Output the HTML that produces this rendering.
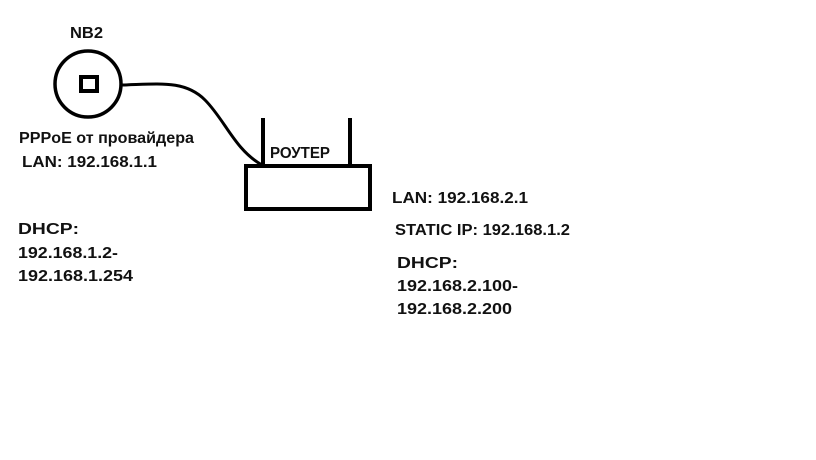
<!DOCTYPE html>
<html><head><meta charset="utf-8"><style>html,body{margin:0;padding:0;background:#fff;}svg{display:block}</style></head>
<body>
<svg width="816" height="460" viewBox="0 0 816 460" xmlns="http://www.w3.org/2000/svg" font-family="Liberation Sans, sans-serif" font-weight="bold" font-size="16" fill="#111">
<rect width="816" height="460" fill="#fff"/>
<circle cx="88" cy="84" r="33" fill="none" stroke="#000" stroke-width="3.5"/>
<rect x="81" y="77" width="16" height="14" fill="none" stroke="#000" stroke-width="4"/>
<path d="M122 85 C 160 84, 185 80, 205 100 C 225 120, 235 150, 262 165" fill="none" stroke="#000" stroke-width="3"/>
<rect x="246" y="166" width="124" height="43" fill="none" stroke="#000" stroke-width="4"/>
<line x1="263" y1="118" x2="263" y2="168" stroke="#000" stroke-width="4"/>
<line x1="350" y1="118" x2="350" y2="168" stroke="#000" stroke-width="4"/>
<text x="70" y="38" textLength="33" lengthAdjust="spacingAndGlyphs">NB2</text>
<text x="19" y="143" textLength="175" lengthAdjust="spacingAndGlyphs">PPPoE  от провайдера</text>
<text x="22" y="167" textLength="135" lengthAdjust="spacingAndGlyphs">LAN: 192.168.1.1</text>
<text x="18" y="234" textLength="61" lengthAdjust="spacingAndGlyphs">DHCP:</text>
<text x="18" y="258" textLength="100" lengthAdjust="spacingAndGlyphs">192.168.1.2-</text>
<text x="18" y="281" textLength="115" lengthAdjust="spacingAndGlyphs">192.168.1.254</text>
<text x="270" y="158" textLength="60" lengthAdjust="spacingAndGlyphs">РОУТЕР</text>
<text x="392" y="203" textLength="136" lengthAdjust="spacingAndGlyphs">LAN: 192.168.2.1</text>
<text x="395" y="235" textLength="175" lengthAdjust="spacingAndGlyphs">STATIC IP: 192.168.1.2</text>
<text x="397" y="268" textLength="61" lengthAdjust="spacingAndGlyphs">DHCP:</text>
<text x="397" y="291" textLength="121" lengthAdjust="spacingAndGlyphs">192.168.2.100-</text>
<text x="397" y="314" textLength="115" lengthAdjust="spacingAndGlyphs">192.168.2.200</text>
</svg>
</body></html>
